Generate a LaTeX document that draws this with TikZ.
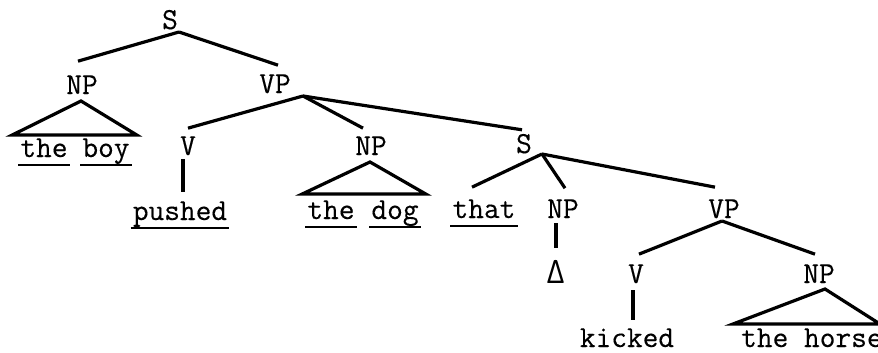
\documentclass[tikz,border=0pt]{standalone}
\usepackage{fontspec}
\newfontfamily\twfont{Latin Modern Mono}[FakeBold=0.3]
\newfontfamily\dlfont{Latin Modern Mono}
\usetikzlibrary{calc}
\begin{document}
\begin{tikzpicture}[x=1pt,y=-1pt,
  lbl/.style={anchor=base,inner sep=0pt,font=\twfont\fontsize{30.5}{36}\selectfont},
  wlbl/.style={lbl,anchor=base west},
  br/.style={line width=3.2pt,line cap=butt},
  uline/.style={line width=1.8pt}]
\useasboundingbox (0,0) rectangle (878,353);
\clip (0,0) rectangle (878,353);
% labels
\node[lbl] (S1) at (170,29) {S};
\node[lbl] (NP1) at (82,94) {NP};
\node[lbl] (VP1) at (275,93) {VP};
\node[lbl] (the1) at (44,157) {the};
\node[lbl] (boy1) at (106,157) {boy};
\node[lbl] (V2) at (188,155) {V};
\node[lbl] (pushed) at (180,220) {pushed};
\node[lbl] (NP2) at (371,155) {NP};
\node[lbl] (the2) at (331,219) {the};
\node[lbl] (dog2) at (395,219) {dog};
\node[lbl] (S2) at (524,153) {S};
\node[lbl] (that) at (484,218) {that};
\node[lbl] (NP3) at (563,218) {NP};
\node[lbl,font=\dlfont\fontsize{37}{42}\selectfont] (delta) at (556,283) {Δ};
\node[lbl] (VP2) at (724,218) {VP};
\node[lbl] (V3) at (636,283) {V};
\node[lbl] (NP4) at (819,283) {NP};
\node[lbl] (kicked) at (627,347) {kicked};
\node[wlbl] (horse) at (741,347) {the horse};
% apex points
\coordinate (S1a) at ([shift={(9pt,-3pt)}]S1.base);
\coordinate (VP1a) at ([shift={(28pt,-3pt)}]VP1.base);
\coordinate (S2a) at ([shift={(18pt,-1pt)}]S2.base);
\coordinate (VP2a) at ([shift={(-2pt,-3pt)}]VP2.base);
% branches
\draw[br] (S1a) -- ([shift={(-4pt,14pt)}]NP1.north);
\draw[br] (S1a) -- ([shift={(3pt,9pt)}]VP1.north);
\draw[br] (VP1a) -- ([shift={(0pt,8pt)}]V2.north);
\draw[br] (VP1a) -- ([shift={(-8pt,8pt)}]NP2.north);
\draw[br] (VP1a) -- ([shift={(-2pt,4pt)}]S2.north);
\draw[br] (S2a) -- ([shift={(-12pt,12pt)}]that.north);
\draw[br] (S2a) -- ([shift={(2pt,11pt)}]NP3.north);
\draw[br] (S2a) -- ([shift={(-9pt,12pt)}]VP2.north);
\draw[br] (VP2a) -- ([shift={(3pt,10pt)}]V3.north);
\draw[br] (VP2a) -- ([shift={(-4pt,10pt)}]NP4.north);
% unary lines
\draw[br] ([shift={(-5pt,-4pt)}]V2.base) -- ([shift={(3pt,28pt)}]pushed.base);
\draw[br] ([shift={(-7pt,-5pt)}]NP3.base) -- ([shift={(0pt,35pt)}]delta.base);
\draw[br] ([shift={(-3pt,-7pt)}]V3.base) -- ([shift={(6pt,27pt)}]kicked.base);
% triangles
\draw[br,line join=miter] ([shift={(-8pt,22pt)}]the1.base west) -- ([shift={(-1pt,-7pt)}]NP1.base) -- ([shift={(7pt,22pt)}]boy1.base east) -- cycle;
\draw[br,line join=miter] ([shift={(-5pt,25pt)}]the2.base west) -- ([shift={(-1pt,-7pt)}]NP2.base) -- ([shift={(7pt,25pt)}]dog2.base east) -- cycle;
\draw[br,line join=miter] ([shift={(-8pt,23pt)}]horse.base west) -- ([shift={(6pt,-6pt)}]NP4.base) -- ([shift={(61pt,-41pt)}]NP4.base) -- cycle;
% underlines
\foreach \w in {the1,boy1,pushed,the2,dog2,that}{
  \draw[uline] ([shift={(-2pt,-8pt)}]\w.base west) -- ([shift={(2pt,-8pt)}]\w.base east);
}
\end{tikzpicture}
\end{document}
